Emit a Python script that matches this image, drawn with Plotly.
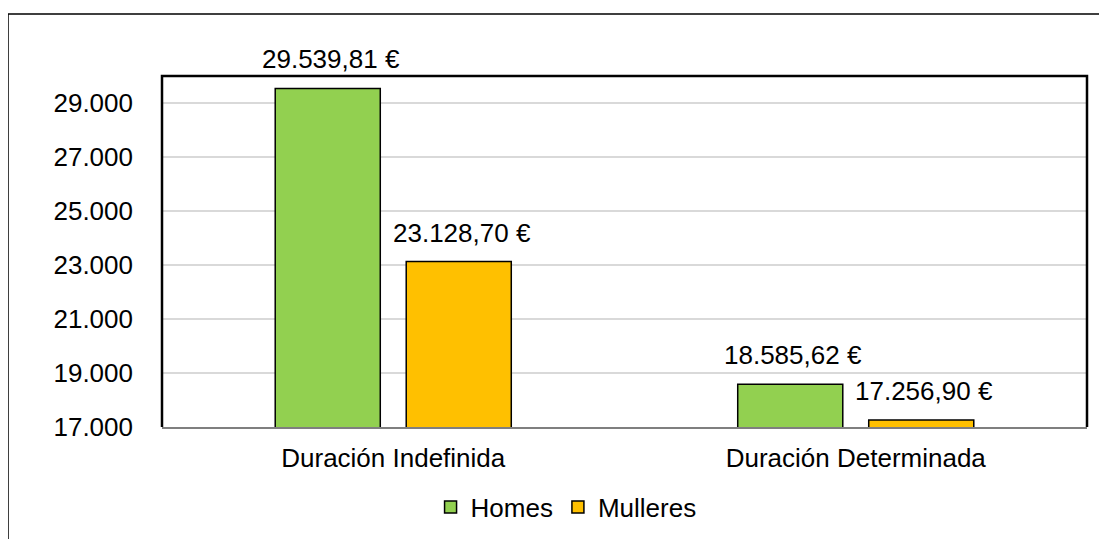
import plotly.graph_objects as go

categories = ["Duración Indefinida", "Duración Determinada"]
homes = [29539.81, 18585.62]
mulleres = [23128.70, 17256.90]
series_names = ["Homes", "Mulleres"]
tick_vals = [17000, 19000, 21000, 23000, 25000, 27000, 29000]
tick_text = ["17.000", "19.000", "21.000", "23.000", "25.000", "27.000", "29.000"]

FONT = "Liberation Sans, Arial, sans-serif"
FS = 26
colors = ["#92D050", "#FFC000"]

def fmt_eur(v):
    s = f"{v:,.2f}"
    s = s.replace(",", "X").replace(".", ",").replace("X", ".")
    return s + " €"

fig = go.Figure()
for name, vals, col in zip(series_names, [homes, mulleres], colors):
    fig.add_trace(go.Bar(
        x=categories, y=vals, name=name,
        marker=dict(color=col, line=dict(color="#000000", width=1.5)),
    ))

# page has an 8px body margin; figure sized to fit the 1107x539 window
W, H = 1099, 531
L, R, T, B = 154, 20, 68, 112
pw, ph = W - L - R, H - T - B

annotations = []
for vals, shift in [(homes, -65.5), (mulleres, 65.5)]:
    for c, v in zip(categories, vals):
        annotations.append(dict(
            x=c, y=v, xref="x", yref="y", text=fmt_eur(v), showarrow=False,
            xshift=shift + 3, yshift=12, yanchor="bottom",
            font=dict(family=FONT, size=FS, color="#000000"),
        ))

shapes = [
    # outer chart frame
    dict(type="rect", xref="paper", yref="paper",
         x0=(0 - L) / pw, x1=1.2, y0=-1.0, y1=(H - B - 6) / ph,
         line=dict(color="#000000", width=1.5), layer="below"),
    # plot area border (left, top, right)
    dict(type="path", xref="paper", yref="paper",
         path="M0,0 L0,1 L1,1 L1,0",
         line=dict(color="#000000", width=2.5), layer="above"),
]

fig.update_layout(
    width=W, height=H,
    margin=dict(l=L, r=R, t=T, b=B, pad=0, autoexpand=False),
    paper_bgcolor="#FFFFFF", plot_bgcolor="#FFFFFF",
    font=dict(family=FONT, size=FS, color="#000000"),
    barmode="group", bargap=0.4335, bargroupgap=0.198,
    showlegend=True,
    legend=dict(orientation="h", x=0.3845, xanchor="left", xref="container",
                y=32 / 531, yref="container", yanchor="middle",
                font=dict(family=FONT, size=FS, color="#000000"),
                traceorder="normal", itemwidth=30,
                bgcolor="rgba(0,0,0,0)"),
    annotations=annotations,
    shapes=shapes,
    xaxis=dict(showgrid=False, showline=True, linecolor="#7F7F7F", linewidth=2,
               ticks="", tickfont=dict(family=FONT, size=FS, color="#000000"),
               ticklabelstandoff=7, fixedrange=True, automargin=False),
    yaxis=dict(range=[17000, 30000], tickvals=tick_vals, ticktext=tick_text,
               showgrid=True, gridcolor="#D9D9D9", gridwidth=1.5,
               showline=False, zeroline=False, ticks="",
               tickfont=dict(family=FONT, size=FS, color="#000000"),
               ticklabelstandoff=28, fixedrange=True, automargin=False),
)

fig.write_html("out.html", config={"displayModeBar": False})
